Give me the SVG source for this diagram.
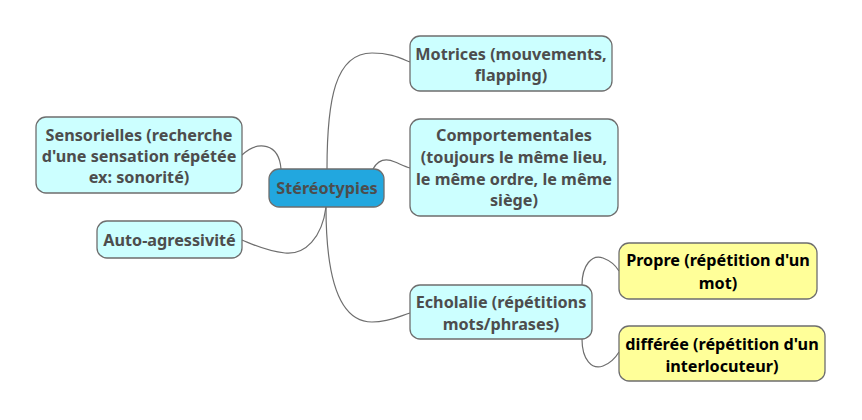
<svg xmlns="http://www.w3.org/2000/svg" width="862" height="420" viewBox="0 0 862 420">
<style>
.n rect{fill:#ccffff;stroke:#6e6e6e;stroke-width:1.3}
.y rect{fill:#ffff99;stroke:#6e6e6e;stroke-width:1.3}
.c rect{fill:#22a7df;stroke:#6e6e6e;stroke-width:1.3}
text{font-family:"Noto Sans","Open Sans","DejaVu Sans",sans-serif;font-weight:bold;font-size:16.2px;fill:#4d4d4d;text-anchor:middle}
.y text{fill:#000}
#links path{fill:none;stroke:#6e6e6e;stroke-width:1.2}
</style>
<rect width="862" height="420" fill="#fff"/>
<g id="links">
<path d="M242,155 C258,140 279,143 281,169"/>
<path d="M327,169 C327,100 335,53 372,53 C390,53 400,58 410,62"/>
<path d="M373,169 C378,160 386,158 395,162 C402,165 406,167 410,168"/>
<path d="M326,207 C326,280 340,322 372,322 C390,322 400,316 410,313"/>
<path d="M326,207 C322,238 305,255 285,253 C265,251 252,244 242,240"/>
<path d="M582,285 C582,265 592,254 603,258 C611,261 616,266 619,271"/>
<path d="M582,339 C582,360 592,370 603,366 C611,363 616,357 619,352"/>
</g>
<g id="central" class="c"><rect x="269" y="169" width="115" height="38" rx="10"/><text x="327" y="194">Stéréotypies</text></g>
<g id="sensorielles" class="n"><rect x="36" y="117" width="206" height="76" rx="10"/><text x="139" y="141">Sensorielles (recherche</text><text x="139" y="162">d'une sensation répétée</text><text x="139" y="183">ex: sonorité)</text></g>
<g id="auto" class="n"><rect x="97" y="221" width="145" height="37" rx="10"/><text x="169.5" y="246">Auto-agressivité</text></g>
<g id="motrices" class="n"><rect x="410" y="36" width="202" height="55" rx="10"/><text x="511" y="60">Motrices (mouvements,</text><text x="511" y="81">flapping)</text></g>
<g id="comportementales" class="n"><rect x="410" y="119" width="208" height="97" rx="10"/><text x="514" y="141">Comportementales</text><text x="514" y="163">(toujours le même lieu,</text><text x="514" y="185">le même ordre, le même</text><text x="514" y="206">siège)</text></g>
<g id="echolalie" class="n"><rect x="410" y="285" width="182" height="54" rx="10"/><text x="501" y="308">Echolalie (répétitions</text><text x="501" y="330">mots/phrases)</text></g>
<g id="propre" class="y"><rect x="619" y="243" width="198" height="56" rx="10"/><text x="718" y="266">Propre (répétition d'un</text><text x="718" y="289">mot)</text></g>
<g id="differee" class="y"><rect x="619" y="326" width="206" height="55" rx="10"/><text x="722" y="350">différée (répétition d'un</text><text x="722" y="372">interlocuteur)</text></g>
</svg>
